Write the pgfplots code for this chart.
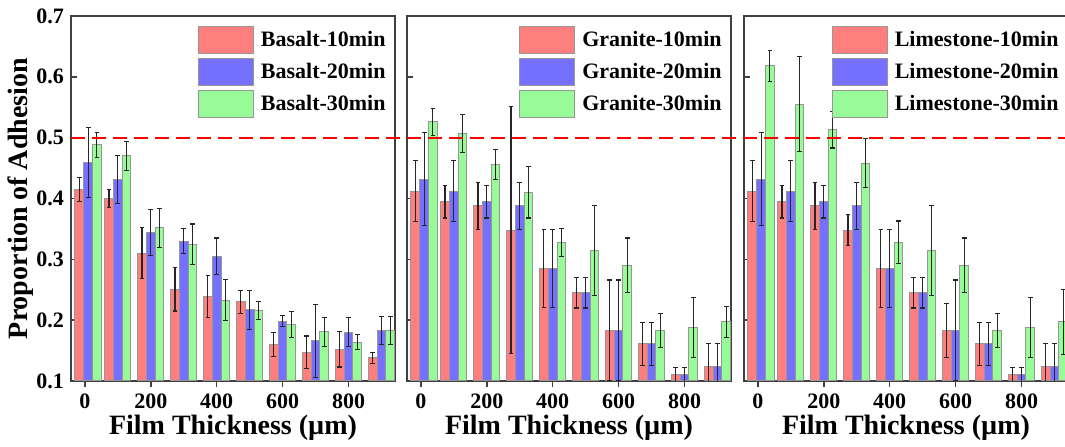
\documentclass[border=0pt]{standalone}
\usepackage{fontspec}
\setmainfont{Liberation Serif}
\usepackage{pgfplots}
\usepackage{pgfplotstable}
\pgfplotsset{compat=1.18}
\definecolor{cR}{RGB}{255,127,127}
\definecolor{cB}{RGB}{117,112,255}
\definecolor{cG}{RGB}{152,251,152}
\definecolor{edge}{RGB}{150,150,150}

\pgfplotstableread{
x r re b be g ge
10 0.415 0.020 0.459 0.058 0.488 0.021
100 0.400 0.015 0.431 0.039 0.470 0.024
200 0.310 0.042 0.344 0.038 0.352 0.032
300 0.251 0.036 0.330 0.020 0.325 0.033
400 0.239 0.034 0.305 0.030 0.233 0.034
500 0.230 0.019 0.217 0.032 0.216 0.015
600 0.160 0.020 0.198 0.009 0.193 0.021
700 0.147 0.027 0.166 0.060 0.181 0.024
800 0.152 0.029 0.180 0.024 0.164 0.012
900 0.138 0.009 0.183 0.023 0.183 0.023
}\tBasalt

\pgfplotstableread{
x r re b be g ge
10 0.412 0.050 0.432 0.077 0.526 0.022
100 0.395 0.027 0.412 0.050 0.507 0.031
200 0.388 0.039 0.395 0.027 0.456 0.025
300 0.348 0.203 0.388 0.039 0.410 0.042
400 0.285 0.064 0.285 0.064 0.328 0.023
500 0.245 0.025 0.245 0.025 0.314 0.074
600 0.183 0.083 0.183 0.083 0.290 0.045
700 0.161 0.035 0.161 0.035 0.183 0.028
800 0.110 0.012 0.110 0.012 0.188 0.049
900 0.124 0.037 0.124 0.037 0.197 0.025
}\tGranite

\pgfplotstableread{
x r re b be g ge
10 0.412 0.050 0.432 0.077 0.618 0.026
100 0.395 0.027 0.412 0.050 0.555 0.078
200 0.388 0.039 0.395 0.027 0.513 0.030
300 0.348 0.026 0.388 0.039 0.458 0.040
400 0.285 0.064 0.285 0.064 0.328 0.035
500 0.245 0.025 0.245 0.025 0.314 0.074
600 0.183 0.045 0.183 0.083 0.290 0.045
700 0.161 0.035 0.161 0.035 0.183 0.028
800 0.110 0.012 0.110 0.012 0.188 0.049
900 0.124 0.037 0.124 0.037 0.197 0.054
}\tLime

\pgfplotsset{
  panel/.style={
    width=162pt, height=182.5pt, scale only axis,
    xmin=-42, xmax=941, ymin=0.1, ymax=0.7,
    xtick={0,200,400,600,800},
    ytick={0.1,0.2,0.3,0.4,0.5,0.6,0.7},
    tick pos=left, tick align=inside, major tick length=3pt,
    axis line style={black!75, line width=1pt},
    every tick/.style={black!75, line width=0.8pt},
    /pgf/number format/assume math mode=true,
    ticklabel style={font=\bfseries\fontsize{11}{13}\selectfont},
    yticklabel style={/pgf/number format/fixed, /pgf/number format/fixed zerofill, /pgf/number format/precision=1},
    xlabel={Film Thickness (µm)},
    xlabel style={font=\bfseries\fontsize{14}{16}\selectfont, at={(axis description cs:0.5,-0.129)}, anchor=center},
    ybar, bar width=26.6,
    error bars/y dir=both, error bars/y explicit,
    error bars/error bar style={black!85, line width=0.55pt},
    error bars/error mark options={black!85, line width=0.55pt, mark size=1.2pt, rotate=90},
    legend image code/.code={\draw[#1, draw=edge, line width=0.5pt] (0pt,-6.75pt) rectangle (27.5pt,6.75pt);},
    legend style={at={(rel axis cs:1,1)}, xshift=-4.5pt, yshift=-5pt, anchor=north east,
      draw=none, fill=none, font=\bfseries\fontsize{11}{13}\selectfont,
      row sep=2pt, inner sep=0pt, nodes={inner sep=0pt},
      /tikz/every odd column/.append style={column sep=3.5pt}},
    legend cell align=left,
  },
  rbar/.style={fill=cR, draw=edge, line width=0.5pt, bar shift=-26.6},
  bbar/.style={fill=cB, draw=edge, line width=0.5pt, bar shift=0},
  gbar/.style={fill=cG, draw=edge, line width=0.5pt, bar shift=26.6},
}

\begin{document}
\begin{tikzpicture}
\begin{axis}[panel, name=p1,
  ylabel={Proportion of Adhesion},
  ylabel style={font=\bfseries\fontsize{14}{16}\selectfont, at={(axis description cs:-0.157,0.5)}, anchor=center}]
\addplot[rbar] table[x=x, y=r, y error=re] {\tBasalt};
\addplot[bbar] table[x=x, y=b, y error=be] {\tBasalt};
\addplot[gbar] table[x=x, y=g, y error=ge] {\tBasalt};
\legend{Basalt-10min, Basalt-20min, Basalt-30min}
\coordinate (L1) at (axis cs:-42,0.5);
\end{axis}
\begin{axis}[panel, name=p2, at={(p1.south east)}, xshift=6pt, anchor=south west, yticklabels={}]
\addplot[rbar] table[x=x, y=r, y error=re] {\tGranite};
\addplot[bbar] table[x=x, y=b, y error=be] {\tGranite};
\addplot[gbar] table[x=x, y=g, y error=ge] {\tGranite};
\legend{Granite-10min, Granite-20min, Granite-30min}
\end{axis}
\begin{axis}[panel, name=p3, at={(p2.south east)}, xshift=6.5pt, anchor=south west, yticklabels={}]
\addplot[rbar] table[x=x, y=r, y error=re] {\tLime};
\addplot[bbar] table[x=x, y=b, y error=be] {\tLime};
\addplot[gbar] table[x=x, y=g, y error=ge] {\tLime};
\legend{Limestone-10min, Limestone-20min, Limestone-30min}
\coordinate (R3) at (axis cs:941,0.5);
\end{axis}
\draw[red, line width=1pt, dash pattern=on 7pt off 3.5pt] (L1) -- (R3);
\pgfresetboundingbox
\path[use as bounding box] ([xshift=-35.5pt,yshift=-33pt]p1.south west) rectangle ([xshift=160.5pt,yshift=8pt]p3.north west);
\end{tikzpicture}
\end{document}
